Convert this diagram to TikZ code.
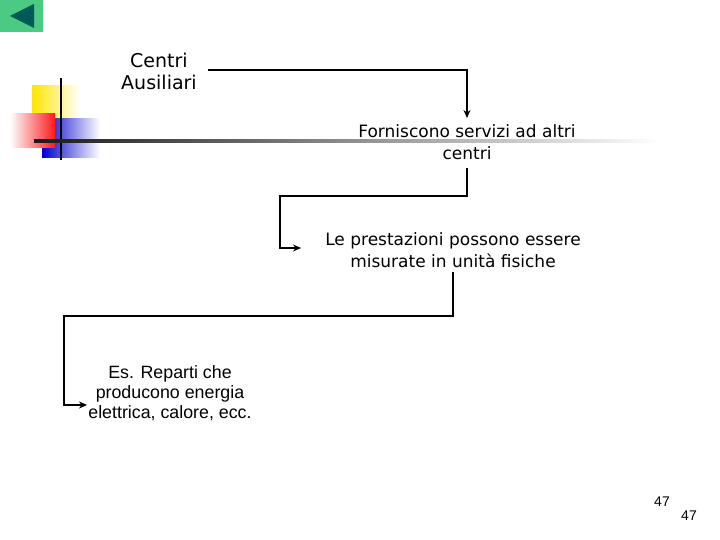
\documentclass[tikz,border=0pt]{standalone}
\usepackage{fontspec}
\setmainfont{DejaVu Sans}
\newfontfamily\arialf{Liberation Sans}
\usetikzlibrary{arrows.meta}
\begin{document}
\begin{tikzpicture}[x=1pt,y=-1pt,
  lbl/.style={align=center,font=\fontsize{19}{22}\selectfont,inner sep=1pt},
  conn/.style={draw=black,line width=1.6pt,-{Stealth[length=8pt,width=7pt]}}]
\useasboundingbox (0,0) rectangle (720,540);
% back button
\fill[teal!60!green!70] (0,0) rectangle (43,32);
\fill[teal!70!black] (10,16) -- (34,4) -- (34,28) -- cycle;
% decoration
\shade[left color=yellow!80!orange, right color=white] (32,86) rectangle (80,119);
\shade[left color=blue!80!black, right color=white] (42,119) rectangle (100,158);
\shade[right color=red!90, left color=white] (10,114) rectangle (55,148);
\draw[line width=2pt] (61,78) -- (61,160);
\shade[left color=black!90, right color=white] (34,140) rectangle (660,142.5);
% nodes
\node[lbl] (a) at (159,71) {Centri\\Ausiliari};
\node[lbl,font=\fontsize{17}{22}\selectfont] (b) at (467,142) {Forniscono servizi ad altri\\centri};
\node[lbl,font=\fontsize{17}{22}\selectfont] (c) at (453,250) {Le prestazioni possono essere\\misurate in unità fisiche};
\node[lbl,font=\arialf\fontsize{17.8}{20}\selectfont] (d) at (170,393) {Es. Reparti che\\producono energia\\elettrica, calore, ecc.};
\coordinate (a1) at (208,70);
\coordinate (b1) at (467,168);
\coordinate (c1) at (453,272);
\draw[conn] (a1) -- (467,70) -- (467,118);
\draw[conn] (b1) -- (467,196) -- (280,196) -- (280,248) -- (301,248);
\draw[conn] (c1) -- (453,316) -- (64,316) -- (64,405) -- (87,405);
\node[font=\arialf\fontsize{14}{16}\selectfont] (p1) at (662,502) {47};
\node[font=\arialf\fontsize{14}{16}\selectfont] (p2) at (689,516) {47};
\end{tikzpicture}
\end{document}
